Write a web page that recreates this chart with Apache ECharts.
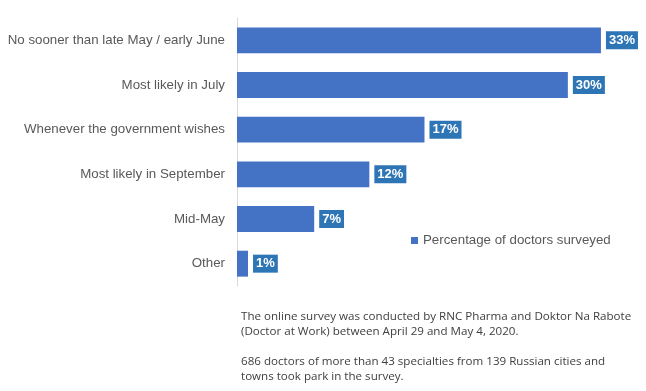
<!DOCTYPE html>
<html><head><meta charset="utf-8">
<script src="https://cdn.jsdelivr.net/npm/echarts@6/dist/echarts.min.js"></script>
<style>html,body{margin:0;padding:0;background:#fff}#c{width:646px;height:391px}</style>
</head><body><div id="c"></div>
<script>
var categories = ["No sooner than late May / early June","Most likely in July","Whenever the government wishes","Most likely in September","Mid-May","Other"];
var values = [33, 30, 17, 12, 7, 1];
var seriesName = "Percentage of doctors surveyed";
var noteLines = [
  "The online survey was conducted by RNC Pharma and Doktor Na Rabote",
  "(Doctor at Work) between April 29 and May 4, 2020.",
  "",
  "686 doctors of more than 43 specialties from 139 Russian cities and",
  "towns took park in the survey."
];
var chart = echarts.init(document.getElementById('c'));
var graphics = [];
noteLines.forEach(function(t, i){
  if (!t) return;
  graphics.push({type:'text', left:241, top:311 + i*15, style:{text:t, fill:'#404040', font:'11.6px "Open Sans", sans-serif'}});
});
chart.setOption({
  animation:false,
  grid:{left:237, top:18, height:268, width:386},
  legend:{data:[seriesName], left:406, top:229, icon:'rect', itemWidth:7, itemHeight:7,
    textStyle:{color:'#595959', fontSize:13.3, fontFamily:'Liberation Sans, Arial, sans-serif'}},
  xAxis:{type:'value', min:0, max:35, show:false},
  yAxis:{type:'category', inverse:true, data:categories,
    axisLine:{show:true, lineStyle:{color:'#d9d9d9', width:1}},
    axisTick:{show:false},
    axisLabel:{color:'#595959', fontSize:13.3, margin:12, fontFamily:'Liberation Sans, Arial, sans-serif'}},
  series:[{name:seriesName, type:'bar', data:values, barCategoryGap:'42%',
    itemStyle:{color:'#4472C4'},
    label:{show:true, position:'right', distance:5, formatter:'{c}%', color:'#fff', fontWeight:'bold',
      fontSize:13, fontFamily:'Liberation Sans, Arial, sans-serif', backgroundColor:'#2E75B6', padding:[3,3,2,3]}}],
  graphic:graphics
});
</script></body></html>
